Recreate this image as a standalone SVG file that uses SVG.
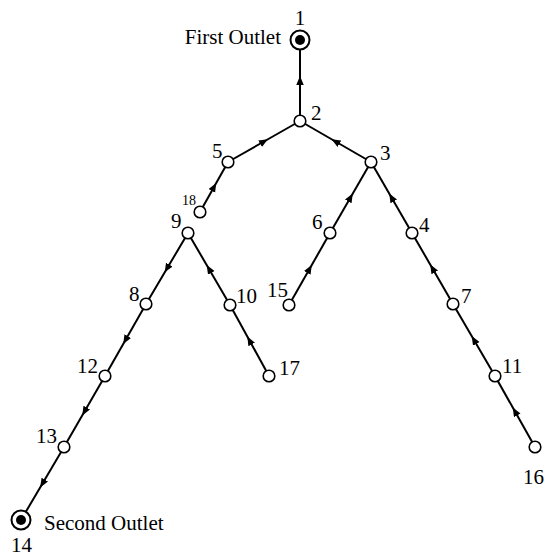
<svg xmlns="http://www.w3.org/2000/svg" width="545" height="558" viewBox="0 0 545 558">
<defs>
<style>
.e{fill:none;stroke:#000;stroke-width:2;marker-mid:url(#a)}
.n{fill:#fff;stroke:#000;stroke-width:1.6}
.o{fill:#fff;stroke:#000;stroke-width:2}
.d{fill:#000}
text{font-family:"Liberation Serif","Times New Roman",serif;font-size:21px;fill:#000}
.s{font-size:14px}
</style>
<marker id="a" markerUnits="userSpaceOnUse" markerWidth="10" markerHeight="8" refX="4.5" refY="3.75" orient="auto">
<path d="M0,0 L9,3.75 L0,7.5 z" fill="#000"/>
</marker>
</defs>
<rect width="545" height="558" fill="#fff"/>
<g id="connectors">
<path class="e" d="M300,121 L300,80.5 L300,40"/>
<path class="e" d="M228,162 L264,141.5 L300,121"/>
<path class="e" d="M200,212 L214,187 L228,162"/>
<path class="e" d="M371,162 L335.5,141.5 L300,121"/>
<path class="e" d="M330,233 L350.5,197.5 L371,162"/>
<path class="e" d="M289,305 L309.5,269 L330,233"/>
<path class="e" d="M412,233 L391.5,197.5 L371,162"/>
<path class="e" d="M453,304 L432.5,268.5 L412,233"/>
<path class="e" d="M495,376 L474,340 L453,304"/>
<path class="e" d="M535,447 L515,411.5 L495,376"/>
<path class="e" d="M230,305 L209,269 L188,233"/>
<path class="e" d="M269,376 L249.5,340.5 L230,305"/>
<path class="e" d="M188,233 L167,268.5 L146,304"/>
<path class="e" d="M146,304 L125.5,340 L105,376"/>
<path class="e" d="M105,376 L84.5,411.5 L64,447"/>
<path class="e" d="M64,447 L42.5,483.5 L21,520"/>
</g>
<g id="n1"><circle class="o" cx="300" cy="40" r="9.5"/><circle class="d" cx="300" cy="40" r="5"/><text x="300" y="25" text-anchor="middle">1</text><text x="281" y="44" text-anchor="end">First Outlet</text></g>
<g id="n2"><circle class="n" cx="300" cy="121" r="5.8"/><text x="311" y="120">2</text></g>
<g id="n3"><circle class="n" cx="371" cy="162" r="5.8"/><text x="380" y="160">3</text></g>
<g id="n4"><circle class="n" cx="412" cy="233" r="5.8"/><text x="419" y="232">4</text></g>
<g id="n5"><circle class="n" cx="228" cy="162" r="5.8"/><text x="212" y="158">5</text></g>
<g id="n6"><circle class="n" cx="330" cy="233" r="5.8"/><text x="312" y="229">6</text></g>
<g id="n7"><circle class="n" cx="453" cy="304" r="5.8"/><text x="461" y="303">7</text></g>
<g id="n8"><circle class="n" cx="146" cy="304" r="5.8"/><text x="129" y="301">8</text></g>
<g id="n9"><circle class="n" cx="188" cy="233" r="5.8"/><text x="171" y="228">9</text></g>
<g id="n10"><circle class="n" cx="230" cy="305" r="5.8"/><text x="236" y="303">10</text></g>
<g id="n11"><circle class="n" cx="495" cy="376" r="5.8"/><text x="502" y="373">11</text></g>
<g id="n12"><circle class="n" cx="105" cy="376" r="5.8"/><text x="77" y="373">12</text></g>
<g id="n13"><circle class="n" cx="64" cy="447" r="5.8"/><text x="36" y="443">13</text></g>
<g id="n14"><circle class="o" cx="21" cy="520" r="9.5"/><circle class="d" cx="21" cy="520" r="5"/><text x="11" y="552">14</text><text x="44" y="530">Second Outlet</text></g>
<g id="n15"><circle class="n" cx="289" cy="305" r="5.8"/><text x="267" y="297">15</text></g>
<g id="n16"><circle class="n" cx="535" cy="447" r="5.8"/><text x="523" y="484">16</text></g>
<g id="n17"><circle class="n" cx="269" cy="376" r="5.8"/><text x="279" y="375">17</text></g>
<g id="n18"><circle class="n" cx="200" cy="212" r="5.8"/><text class="s" x="182" y="205">18</text></g>
</svg>
